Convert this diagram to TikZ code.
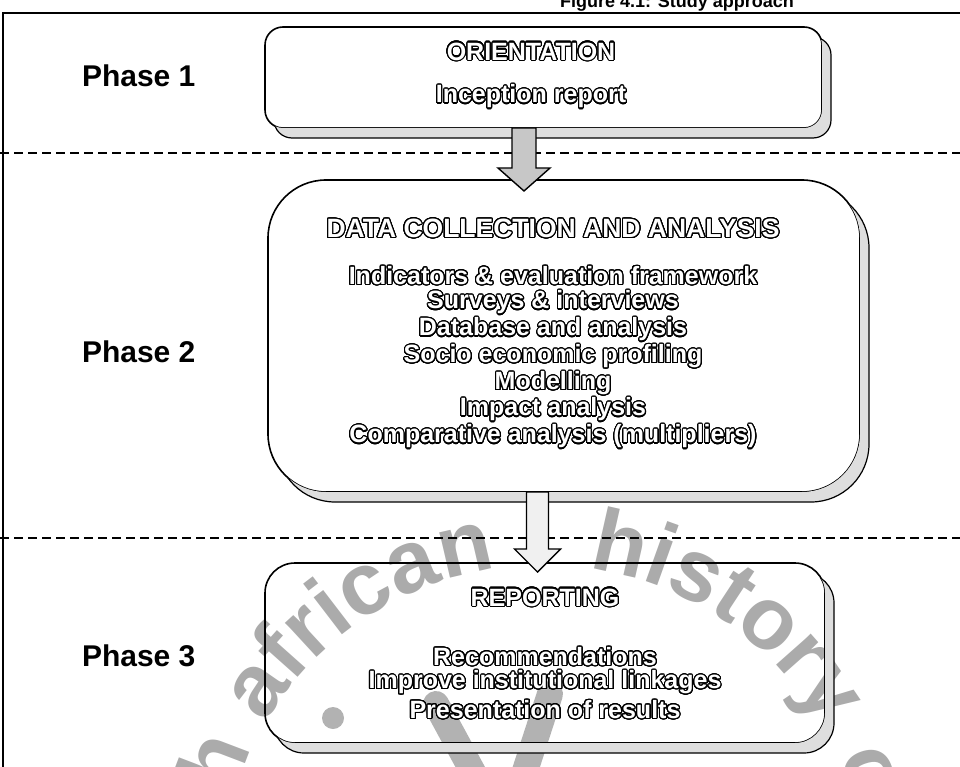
\documentclass[tikz,border=0pt]{standalone}
\usepackage{fontspec}
\setmainfont{Liberation Sans}
\newfontfamily\wmfontA[LetterSpace=2.5]{Liberation Sans Bold}
\newfontfamily\wmfontB[LetterSpace=10]{Liberation Sans Bold}
\usepackage[copies]{contour}
\usetikzlibrary{calc,decorations.text}

\contourlength{1.15pt}
\contournumber{32}

% hollow lettering: white letters with a black rim
\newcommand{\hollow}[1]{{\color{white}\contour{black}{#1}}}

\tikzset{
  every node/.style={inner sep=0pt, outer sep=0pt},
  phaselabel/.style={anchor=west, font=\bfseries\fontsize{30}{30}\selectfont},
  hollowtext/.style={font=\bfseries\fontsize{25}{25}\selectfont},
  hollowhead/.style={font=\bfseries\fontsize{26.5}{26.5}\selectfont},
  stagebox/.style={draw=black, line width=1.6pt},
  shadowfill/.style={fill=black!13, draw=black, line width=1.2pt},
  dividerline/.style={draw=black, line width=1.8pt, dash pattern=on 9pt off 5pt},
  blockarrow/.style={draw=black, line width=1.4pt, line join=miter},
  wmgray/.style={black!30},
  wmtext/.style={decorate, decoration={text along path, text align=left,
      text color=black!33, text={#1}}},
}

\begin{document}
\begin{tikzpicture}[x=1pt, y=-1pt]
  \useasboundingbox (0,0) rectangle (960,767);

  % caption, cut by the top edge
  \node[anchor=base, font=\bfseries\fontsize{18}{18}\selectfont] (caption) at (677,8) {Figure 4.1: Study approach};

  % frame
  \draw[line width=2pt] (3,780) -- (3,13) -- (970,13);

  % watermark: lettering on an arc and the little figure beneath it
  \coordinate (wmc) at (543,887);
  \path[wmtext={|\wmfontA\fontsize{88}{88}\selectfont|south african}]
    ($(wmc)+(197:322pt)$) arc[start angle=197, end angle=88, radius=322pt];
  \path[wmtext={|\wmfontB\fontsize{88}{88}\selectfont|history online}]
    ($(wmc)+(82:322pt)$) arc[start angle=82, end angle=-80, radius=322pt];
  \coordinate (wmhead) at (333,718);
  \fill[wmgray] (wmhead) circle[radius=11pt];
  \coordinate (wmarmA) at (436,704);
  \coordinate (wmarmB) at (550,694);
  \draw[wmgray, line width=26pt, line cap=round] (wmarmA) -- ++(38,70);
  \draw[wmgray, line width=26pt, line cap=round] (wmarmB) -- ++(-26,80);

  % stage boxes (outlines only, the page is white)
  \node[stagebox, rounded corners=18pt, minimum width=557pt, minimum height=101pt] (b1) at (543.5,77.5) {};
  \node[stagebox, rounded corners=58pt, minimum width=592pt, minimum height=312pt] (b2) at (564,336) {};
  \node[stagebox, rounded corners=30pt, minimum width=560pt, minimum height=180pt] (b3) at (545,653) {};

  % drop shadows, kept outside the boxes
  \foreach \b/\r in {b1/18pt, b2/58pt, b3/30pt}{
    \begin{scope}[even odd rule, rounded corners=\r]
      \clip (-20,-20) rectangle (990,800) (\b.north west) rectangle (\b.south east);
      \draw[shadowfill]
        ($(\b.north west)+(9,10)$) rectangle ($(\b.south east)+(9,10)$);
    \end{scope}
  }

  % phase dividers
  \draw[dividerline] (0,153) -- (960,153);
  \draw[dividerline] (0,538) -- (960,538);

  % block arrows between the stages
  \draw[blockarrow, fill=black!22] ($(b1.south)+(-31.5,0)$) -- ++(24,0) -- ++(0,40) -- ++(14,0)
    -- ++(-26,23) -- ++(-26,-23) -- ++(14,0) -- cycle;
  \draw[blockarrow, fill=black!6] ($(b2.south)+(-37.5,0)$) -- ++(22,0) -- ++(0,57) -- ++(12,0)
    -- ++(-23,23) -- ++(-23,-23) -- ++(12,0) -- cycle;

  % phase labels
  \node[phaselabel] (p1) at (82,76) {Phase 1};
  \node[phaselabel] (p2) at (82,352) {Phase 2};
  \node[phaselabel] (p3) at (82,656) {Phase 3};

  % stage 1
  \node[hollowtext] (t1a) at (531,52) {\hollow{ORIENTATION}};
  \node[hollowtext] (t1b) at (531,97) {\hollow{Inception report}};

  % stage 2
  \node[hollowhead] (t2h) at (553,229) {\hollow{DATA COLLECTION AND ANALYSIS}};
  \node[hollowtext] (t2a) at (553,276) {\hollow{Indicators \& evaluation framework}};
  \node[hollowtext] (t2b) at (553,303) {\hollow{Surveys \& interviews}};
  \node[hollowtext] (t2c) at (553,330) {\hollow{Database and analysis}};
  \node[hollowtext] (t2d) at (553,357) {\hollow{Socio economic profiling}};
  \node[hollowtext] (t2e) at (553,384) {\hollow{Modelling}};
  \node[hollowtext] (t2f) at (553,410) {\hollow{Impact analysis}};
  \node[hollowtext] (t2g) at (553,437) {\hollow{Comparative analysis (multipliers)}};

  % stage 3
  \node[hollowtext] (t3h) at (545,598) {\hollow{REPORTING}};
  \node[hollowtext] (t3a) at (545,657) {\hollow{Recommendations}};
  \node[hollowtext] (t3b) at (545,683) {\hollow{Improve institutional linkages}};
  \node[hollowtext] (t3c) at (545,710) {\hollow{Presentation of results}};
\end{tikzpicture}
\end{document}
